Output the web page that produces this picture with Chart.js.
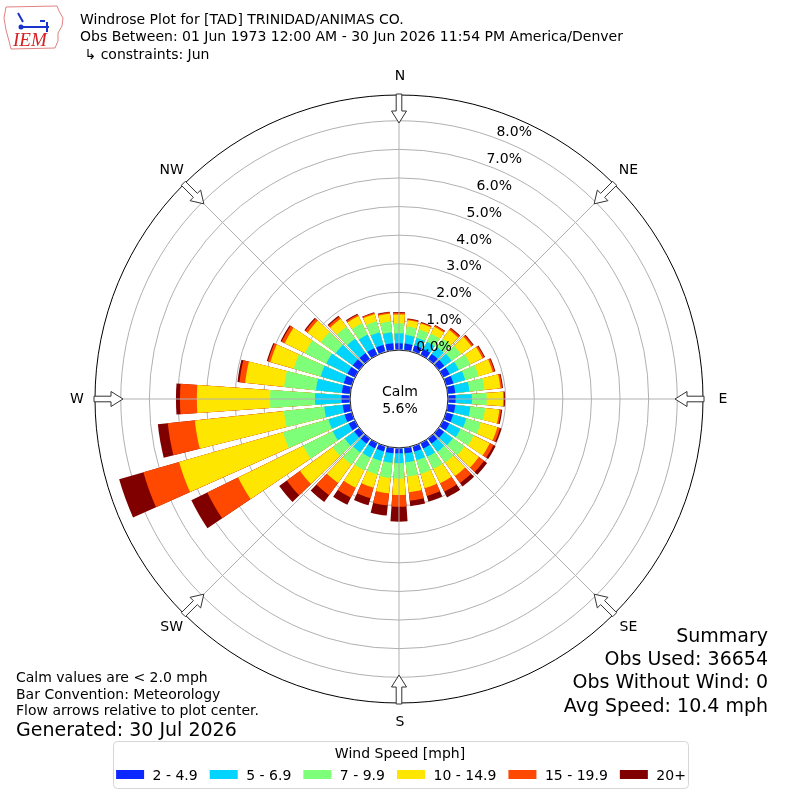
<!DOCTYPE html>
<html>
<head>
<meta charset="utf-8">
<script src="https://cdn.jsdelivr.net/npm/chart.js@4.4.1/dist/chart.umd.min.js"></script>
<style>
  html, body { margin: 0; padding: 0; background: #fff; }
</style>
</head>
<body>
<canvas id="rose" width="800" height="800"></canvas>
<script>
// direction bins (degrees, meteorological: where the wind blows from)
const directions = [0, 10, 20, 30, 40, 50, 60, 70, 80, 90, 100, 110, 120, 130, 140, 150, 160, 170,
  180, 190, 200, 210, 220, 230, 240, 250, 260, 270, 280, 290, 300, 310, 320, 330, 340, 350];

const speedLabels = ['2 - 4.9', '5 - 6.9', '7 - 9.9', '10 - 14.9', '15 - 19.9', '20+'];
const speedColors = ['#0a28ff', '#00d4ff', '#7dff7a', '#ffe600', '#ff4800', '#800000'];

// percent of observations per direction, one array per speed bin
const pct2to5 = [0.22, 0.22, 0.22, 0.22, 0.22, 0.23, 0.24, 0.25, 0.25, 0.25, 0.25, 0.24, 0.23, 0.22, 0.20, 0.20, 0.19, 0.18,
  0.17, 0.18, 0.18, 0.19, 0.20, 0.21, 0.23, 0.25, 0.25, 0.28, 0.28, 0.28, 0.28, 0.27, 0.26, 0.25, 0.24, 0.23];
const pct5to7 = [0.35, 0.30, 0.28, 0.28, 0.30, 0.32, 0.36, 0.43, 0.50, 0.57, 0.53, 0.48, 0.43, 0.38, 0.35, 0.32, 0.31, 0.32,
  0.35, 0.34, 0.34, 0.36, 0.38, 0.41, 0.62, 0.59, 0.65, 0.93, 0.91, 0.84, 0.82, 0.73, 0.62, 0.53, 0.46, 0.39];
const pct7to10 = [0.35, 0.30, 0.30, 0.32, 0.36, 0.40, 0.45, 0.49, 0.53, 0.52, 0.52, 0.53, 0.52, 0.50, 0.47, 0.48, 0.50, 0.50,
  0.53, 0.53, 0.50, 0.50, 0.52, 0.52, 1.15, 1.65, 1.42, 1.57, 1.12, 0.98, 0.83, 0.65, 0.52, 0.44, 0.40, 0.38];
const pct10to15 = [0.31, 0.22, 0.22, 0.26, 0.37, 0.45, 0.47, 0.51, 0.56, 0.58, 0.50, 0.60, 0.62, 0.62, 0.58, 0.55, 0.52, 0.55,
  0.58, 0.54, 0.48, 0.67, 0.80, 1.41, 2.53, 3.78, 3.13, 2.56, 1.37, 0.85, 0.79, 0.57, 0.34, 0.28, 0.26, 0.27];
const pct15to20 = [0.06, 0.04, 0.03, 0.05, 0.07, 0.07, 0.07, 0.07, 0.06, 0.03, 0.06, 0.10, 0.15, 0.23, 0.30, 0.33, 0.28, 0.30,
  0.41, 0.43, 0.38, 0.39, 0.53, 0.57, 1.20, 1.30, 0.95, 0.59, 0.20, 0.09, 0.12, 0.10, 0.09, 0.06, 0.05, 0.05];
const pct20plus = [0.02, 0.02, 0.02, 0.02, 0.03, 0.03, 0.03, 0.03, 0.03, 0.03, 0.04, 0.05, 0.08, 0.13, 0.15, 0.22, 0.20, 0.19,
  0.52, 0.35, 0.26, 0.28, 0.29, 0.33, 0.62, 0.88, 0.35, 0.14, 0.07, 0.04, 0.04, 0.04, 0.04, 0.03, 0.02, 0.02];

const ringValues = [0, 1, 2, 3, 4, 5, 6, 7, 8];
const compassLabels = ['N', 'NE', 'E', 'SE', 'S', 'SW', 'W', 'NW'];
const calmPct = 5.6;

const titleLines = ['Windrose Plot for [TAD] TRINIDAD/ANIMAS CO.',
  'Obs Between: 01 Jun 1973 12:00 AM - 30 Jun 2026 11:54 PM America/Denver',
  ' \u21b3 constraints: Jun'];
const noteLines = ['Calm values are < 2.0 mph', 'Bar Convention: Meteorology', 'Flow arrows relative to plot center.'];
const generatedText = 'Generated: 30 Jul 2026';
const summaryLines = ['Summary', 'Obs Used: 36654', 'Obs Without Wind: 0', 'Avg Speed: 10.4 mph'];

// radial scale: 0% sits on the calm circle
const R_MIN = -1.727;
const R_MAX = 8.9;
const BAR_DEG = 8;   // bar opening
const GAP_DEG = 2;   // white gap between bars

const FONT = '"DejaVu Sans", sans-serif';

// stack: each dataset holds the running total, smallest drawn on top
const bins = [pct2to5, pct5to7, pct7to10, pct10to15, pct15to20, pct20plus];
const stacked = bins.map((_, b) => directions.map((d, i) => {
  let s = 0;
  for (let k = 0; k <= b; k++) s += bins[k][i];
  return s;
}));

// every direction is followed by an empty gap slot
const labels = [];
directions.forEach(d => { labels.push(d + '\u00b0'); labels.push(''); });

const datasets = stacked.map((vals, b) => ({
  label: speedLabels[b],
  data: vals.flatMap(v => [v, R_MIN]),
  backgroundColor: speedColors[b],
  borderWidth: 0,
  angle: ctx => (ctx.dataIndex % 2 === 0 ? BAR_DEG : GAP_DEG)
}));

function drawArrow(ctx, cx, cy, a, rTail, len) {
  const hw = 2.8, HW = 7.5, head = 12;
  const pts = [
    [rTail, -hw], [rTail - len + head, -hw], [rTail - len + head, -HW], [rTail - len, 0],
    [rTail - len + head, HW], [rTail - len + head, hw], [rTail, hw]
  ];
  ctx.beginPath();
  pts.forEach(([t, w], i) => {
    const x = cx + t * Math.sin(a) + w * Math.cos(a);
    const y = cy - t * Math.cos(a) + w * Math.sin(a);
    if (i === 0) ctx.moveTo(x, y); else ctx.lineTo(x, y);
  });
  ctx.closePath();
  ctx.fillStyle = '#fff';
  ctx.fill();
  ctx.strokeStyle = '#333';
  ctx.lineWidth = 1;
  ctx.stroke();
}

function drawLogo(ctx) {
  ctx.save();
  ctx.strokeStyle = '#e08080';
  ctx.lineWidth = 1;
  ctx.beginPath();
  const outline = [[6, 7], [57, 6], [59, 11], [63, 18], [62, 26], [58, 33], [58, 41], [55, 48], [11, 49], [9, 41], [6, 30], [4, 18]];
  outline.forEach(([x, y], i) => (i ? ctx.lineTo(x, y) : ctx.moveTo(x, y)));
  ctx.closePath();
  ctx.stroke();
  ctx.strokeStyle = '#1a33cc';
  ctx.fillStyle = '#1a33cc';
  ctx.lineWidth = 2;
  ctx.beginPath();
  ctx.moveTo(21, 27); ctx.lineTo(49, 27);
  ctx.moveTo(47, 22); ctx.lineTo(47, 32);
  ctx.moveTo(40, 21); ctx.lineTo(45, 21);
  ctx.moveTo(18, 13); ctx.lineTo(23, 22);
  ctx.stroke();
  ctx.beginPath(); ctx.arc(21, 27, 2.5, 0, Math.PI * 2); ctx.fill();
  ctx.font = 'italic 19px "Liberation Serif", serif';
  ctx.fillStyle = '#d42020';
  ctx.textAlign = 'left';
  ctx.textBaseline = 'alphabetic';
  ctx.fillText('IEM', 13, 46);
  ctx.restore();
}

const roseDecor = {
  id: 'roseDecor',
  afterDatasetsDraw(chart) {
    const s = chart.scales.r;
    const ctx = chart.ctx;
    const cx = s.xCenter, cy = s.yCenter;
    const r0 = s.getDistanceFromCenterForValue(0);
    const rOut = s.getDistanceFromCenterForValue(R_MAX);
    ctx.save();
    ctx.fillStyle = '#fff';
    ctx.beginPath();
    ctx.arc(cx, cy, r0, 0, Math.PI * 2);
    ctx.fill();
    ctx.strokeStyle = '#b0b0b0';
    ctx.lineWidth = 1;
    compassLabels.forEach((_, i) => {
      const a = i * Math.PI / 4;
      ctx.beginPath();
      ctx.moveTo(cx + r0 * Math.sin(a), cy - r0 * Math.cos(a));
      ctx.lineTo(cx + rOut * Math.sin(a), cy - rOut * Math.cos(a));
      ctx.stroke();
    });
    ctx.restore();
  },
  afterDraw(chart) {
    const s = chart.scales.r;
    const ctx = chart.ctx;
    const cx = s.xCenter, cy = s.yCenter;
    const r0 = s.getDistanceFromCenterForValue(0);
    const rOut = s.getDistanceFromCenterForValue(R_MAX);
    ctx.save();

    // outer frame
    ctx.strokeStyle = '#000';
    ctx.lineWidth = 1;
    ctx.beginPath();
    ctx.arc(cx, cy, rOut, 0, Math.PI * 2);
    ctx.stroke();

    // calm circle edge
    ctx.strokeStyle = '#222';
    ctx.beginPath();
    ctx.arc(cx, cy, r0 - 0.5, 0, Math.PI * 2);
    ctx.stroke();

    // flow arrows + compass labels
    ctx.font = '14px ' + FONT;
    ctx.fillStyle = '#000';
    ctx.textAlign = 'center';
    ctx.textBaseline = 'middle';
    compassLabels.forEach((lab, i) => {
      const a = i * Math.PI / 4;
      drawArrow(ctx, cx, cy, a, rOut + 1, 29);
      ctx.fillStyle = '#000';
      ctx.fillText(lab, cx + 323 * Math.sin(a) + 1, cy - 323 * Math.cos(a));
    });

    // ring labels
    const th = 20.5 * Math.PI / 180;
    ctx.textAlign = 'left';
    ctx.textBaseline = 'alphabetic';
    ringValues.forEach(v => {
      const r = s.getDistanceFromCenterForValue(v);
      ctx.fillText(v.toFixed(1) + '%', cx + r * Math.sin(th), cy - r * Math.cos(th) - 2);
    });

    // calm text
    ctx.textAlign = 'center';
    ctx.fillText('Calm', cx + 1, cy - 3);
    ctx.fillText(calmPct.toFixed(1) + '%', cx + 1, cy + 14);

    // header
    drawLogo(ctx);
    ctx.textAlign = 'left';
    ctx.font = '14px ' + FONT;
    titleLines.forEach((t, i) => ctx.fillText(t, 80, 23.5 + i * 17.8));

    // notes, bottom left
    noteLines.forEach((t, i) => ctx.fillText(t, 16, 682 + i * 16.7));
    ctx.font = '19px ' + FONT;
    ctx.fillText(generatedText, 16, 735.5);

    // summary, bottom right
    ctx.font = '19px ' + FONT;
    ctx.textAlign = 'right';
    summaryLines.forEach((t, i) => ctx.fillText(t, 768, 642 + i * 23.2));

    // legend box
    ctx.strokeStyle = '#d6d6d6';
    ctx.lineWidth = 1;
    ctx.fillStyle = '#fff';
    ctx.beginPath();
    ctx.roundRect(113.5, 741.5, 575, 47, 4);
    ctx.fill();
    ctx.stroke();
    ctx.fillStyle = '#000';
    ctx.font = '14px ' + FONT;
    ctx.textAlign = 'center';
    ctx.fillText('Wind Speed [mph]', 400, 758);
    ctx.textAlign = 'left';
    const boxW = 28, boxGap = 8.5, itemGap = 12;
    const widths = speedLabels.map(t => ctx.measureText(t).width);
    const total = widths.reduce((acc, w) => acc + boxW + boxGap + w, 0) + itemGap * (speedLabels.length - 1);
    let x = 401 - total / 2;
    speedLabels.forEach((t, i) => {
      ctx.fillStyle = speedColors[i];
      ctx.fillRect(x, 770, boxW, 9);
      ctx.fillStyle = '#000';
      ctx.fillText(t, x + boxW + boxGap, 780);
      x += boxW + boxGap + widths[i] + itemGap;
    });

    ctx.restore();
  }
};

new Chart(document.getElementById('rose'), {
  type: 'polarArea',
  data: { labels: labels, datasets: datasets },
  options: {
    responsive: false,
    animation: false,
    events: [],
    layout: { padding: { left: 95, top: 95, right: 97, bottom: 97 } },
    plugins: {
      legend: { display: false },
      tooltip: { enabled: false }
    },
    scales: {
      r: {
        min: R_MIN,
        max: R_MAX,
        startAngle: -BAR_DEG / 2,
        z: 1,
        afterBuildTicks: scale => { scale.ticks = ringValues.map(v => ({ value: v })); },
        ticks: { display: false },
        grid: { color: '#b0b0b0', lineWidth: 1, circular: true },
        angleLines: { display: false },
        pointLabels: { display: false }
      }
    }
  },
  plugins: [roseDecor]
});
</script>
</body>
</html>
